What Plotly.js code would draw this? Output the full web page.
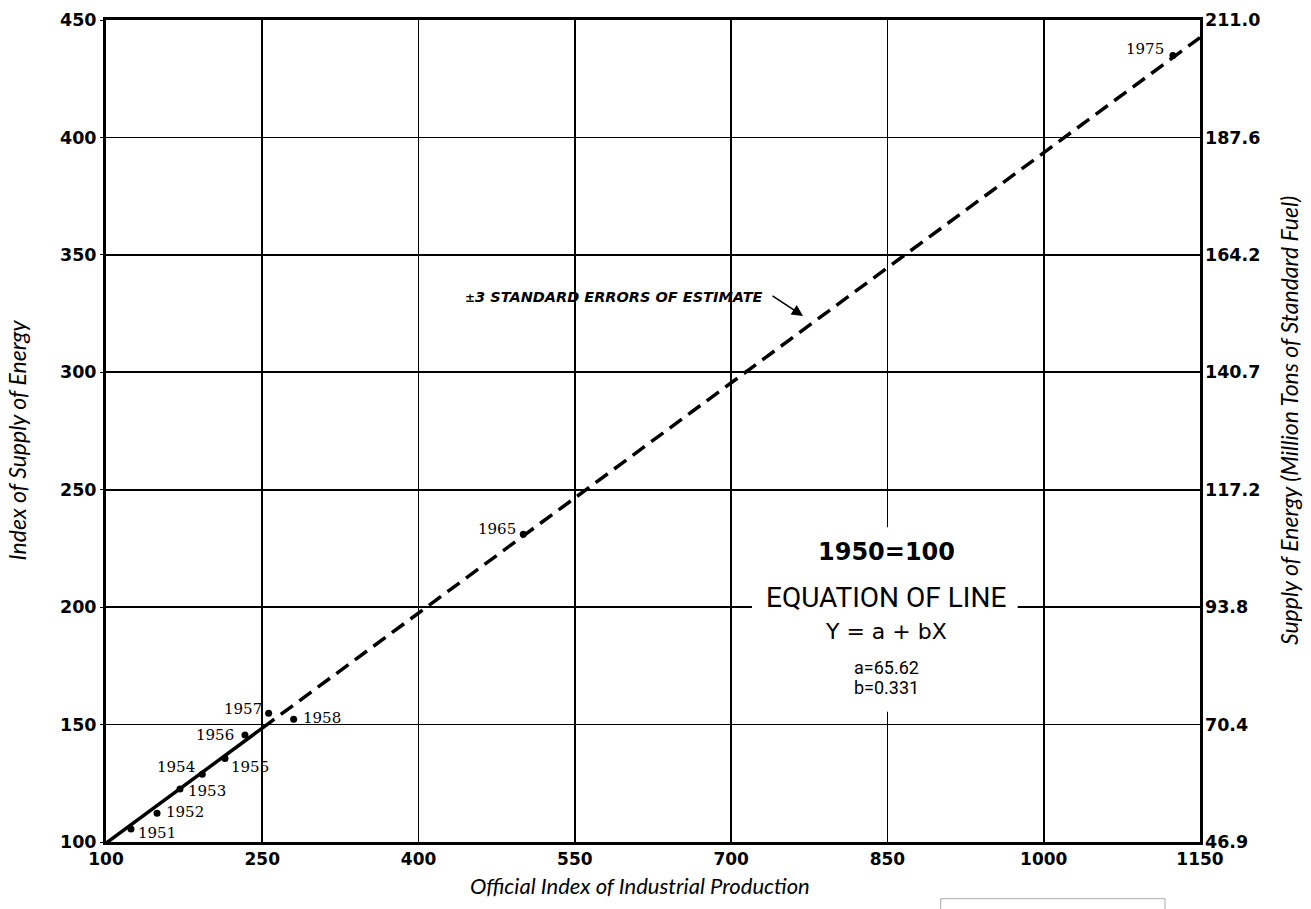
<!DOCTYPE html>
<html>
<head>
<meta charset="utf-8">
<script src="https://cdn.plot.ly/plotly-3.0.1.min.js"></script>
<style>html,body{margin:0;padding:0;background:#fff;}#chart{width:1311px;height:909px;}</style>
</head>
<body>
<div id="chart"></div>
<script>
// ---- data ----
const years = ['1951','1952','1953','1954','1955','1956','1957','1958','1965','1975'];
const prodIndex = [124, 149, 171, 192.4, 214.2, 233.4, 256.1, 280.1, 500.5, 1124];
const energyIndex = [105.5, 112.2, 122.6, 128.8, 135.6, 145.6, 154.8, 152.3, 231, 434.9];

const solidX = [100, 250];
const solidY = [99.5, 148.5];
const dashX = [250, 1150];
const dashY = [148.5, 442.5];

const xTicks = [100, 250, 400, 550, 700, 850, 1000, 1150];
const yTicks = [100, 150, 200, 250, 300, 350, 400, 450];
const rightTickText = ['46.9', '70.4', '93.8', '117.2', '140.7', '164.2', '187.6', '211.0'];

const eqA = '65.62';
const eqB = '0.331';

// label placement (anchor side, pixel shifts) per year
const labelPlace = [
  ['left', 5, -4], ['left', 7, 1], ['left', 6, -2], ['right', -5, 7], ['left', 4, -9],
  ['right', -9, 0], ['right', -5, 4], ['left', 7, 1], ['right', -5, 5], ['right', -7, 6]
];

const tickFont = {family: 'DejaVu Sans, sans-serif', size: 17.5, color: '#000', weight: 'bold'};
const xTickFont = {family: 'DejaVu Sans, sans-serif', size: 17, color: '#000', weight: 'bold'};
const titleFont = {family: 'Lato, sans-serif', size: 23, color: '#000', style: 'italic'};
const xTitleFont = {family: 'Lato, sans-serif', size: 22, color: '#000', style: 'italic'};
const yearFont = {family: 'DejaVu Serif, serif', size: 15, color: '#000'};

const traces = [
  {x: solidX, y: solidY, mode: 'lines', line: {color: '#000', width: 3.5}, hoverinfo: 'skip', showlegend: false},
  {x: dashX, y: dashY, mode: 'lines', line: {color: '#000', width: 3.5, dash: '15px,8px'}, hoverinfo: 'skip', showlegend: false},
  {x: prodIndex, y: energyIndex, mode: 'markers', marker: {color: '#000', size: 7}, text: years, showlegend: false},
  {x: [100, 1150], y: [100, 450], yaxis: 'y2', mode: 'markers', marker: {opacity: 0}, hoverinfo: 'skip', showlegend: false}
];

const annotations = years.map((yr, i) => ({
  x: prodIndex[i], y: energyIndex[i], xref: 'x', yref: 'y', text: yr, showarrow: false,
  xanchor: labelPlace[i][0], yanchor: 'middle', xshift: labelPlace[i][1], yshift: labelPlace[i][2],
  font: yearFont
}));

annotations.push(
  {x: 588, y: 332, xref: 'x', yref: 'y', showarrow: false, xanchor: 'center', yanchor: 'middle',
   text: '<span style="font-size:12px">±</span>3 STANDARD ERRORS OF ESTIMATE',
   font: {family: 'DejaVu Sans, sans-serif', size: 14.5, color: '#000', weight: 'bold', style: 'italic'}},
  {x: 769, y: 324, xref: 'x', yref: 'y', text: '', showarrow: true, arrowhead: 2, arrowsize: 1.4,
   arrowwidth: 1.6, arrowcolor: '#000', ax: -32, ay: -21, standoff: 0},
  {x: 849, y: 223.6, xref: 'x', yref: 'y', showarrow: false, xanchor: 'center', yanchor: 'middle', text: '1950=100',
   font: {family: 'DejaVu Sans, sans-serif', size: 24, color: '#000', weight: 'bold'}},
  {x: 849, y: 203.9, xref: 'x', yref: 'y', showarrow: false, xanchor: 'center', yanchor: 'middle', text: 'EQUATION OF LINE',
   font: {family: 'Liberation Sans Narrow, Roboto, sans-serif', size: 28, color: '#000'}},
  {x: 849, y: 189.6, xref: 'x', yref: 'y', showarrow: false, xanchor: 'center', yanchor: 'middle', text: 'Y = a + bX',
   font: {family: 'DejaVu Sans, sans-serif', size: 22, color: '#000'}},
  {x: 849, y: 174.2, xref: 'x', yref: 'y', showarrow: false, xanchor: 'center', yanchor: 'middle', text: 'a=' + eqA,
   font: {family: 'Liberation Sans Narrow, Roboto, sans-serif', size: 18, color: '#000'}},
  {x: 849, y: 165.6, xref: 'x', yref: 'y', showarrow: false, xanchor: 'center', yanchor: 'middle', text: 'b=' + eqB,
   font: {family: 'Liberation Sans Narrow, Roboto, sans-serif', size: 18, color: '#000'}},
  {x: 0.488, y: -0.053, xref: 'paper', yref: 'paper', showarrow: false, xanchor: 'center', yanchor: 'middle',
   text: 'Official Index of Industrial Production', font: xTitleFont},
  {x: -0.081, y: 0.489, xref: 'paper', yref: 'paper', showarrow: false, textangle: -90, xanchor: 'center', yanchor: 'middle',
   text: 'Index of Supply of Energy', font: titleFont},
  {x: 1.082, y: 0.513, xref: 'paper', yref: 'paper', showarrow: false, textangle: -90, xanchor: 'center', yanchor: 'middle',
   text: 'Supply of Energy (Million Tons of Standard Fuel)', font: titleFont}
);

const layout = {
  width: 1311, height: 909,
  margin: {l: 106, r: 111, t: 20, b: 67},
  paper_bgcolor: '#fff', plot_bgcolor: '#fff',
  showlegend: false,
  xaxis: {
    range: [100, 1150], tickvals: xTicks, ticktext: xTicks.map(String),
    showgrid: true, gridcolor: '#000', gridwidth: 1.6,
    showline: true, linecolor: '#000', linewidth: 3, mirror: true,
    zeroline: false, ticks: '', tickfont: xTickFont, title: {text: ''}
  },
  yaxis: {
    range: [100, 450], tickvals: yTicks, ticktext: yTicks.map(String),
    showgrid: true, gridcolor: '#000', gridwidth: 1.6,
    showline: true, linecolor: '#000', linewidth: 3, mirror: true,
    zeroline: false, ticks: 'outside', ticklen: 3, tickcolor: '#000', tickfont: tickFont, title: {text: ''}
  },
  yaxis2: {
    range: [100, 450], overlaying: 'y', side: 'right', tickvals: yTicks, ticktext: rightTickText,
    showgrid: false, zeroline: false, showline: false, ticks: '', ticklabelstandoff: 4, tickfont: tickFont, title: {text: ''}
  },
  shapes: [
    {type: 'rect', xref: 'x', yref: 'y', x0: 720, x1: 975, y0: 155.5, y1: 234, fillcolor: '#fff',
     line: {width: 0}, layer: 'above'},
    {type: 'rect', xref: 'paper', yref: 'paper', x0: 0.763, x1: 0.968, y0: -0.069, y1: -0.095,
     fillcolor: 'rgba(0,0,0,0)', line: {color: '#aaa', width: 1}, layer: 'above'}
  ],
  annotations: annotations
};

Plotly.newPlot('chart', traces, layout, {displayModeBar: false, staticPlot: true});
</script>
</body>
</html>
